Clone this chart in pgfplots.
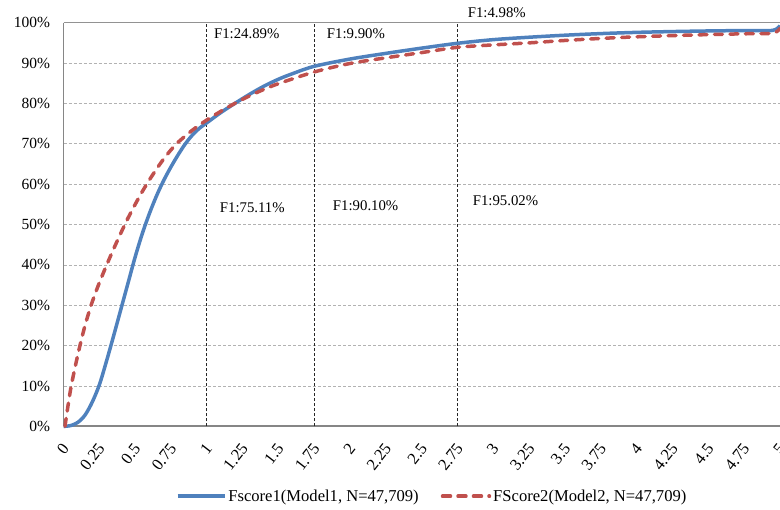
\documentclass[border=0pt]{standalone}
\usepackage{fontspec}
\setmainfont{Liberation Serif}
\usepackage{pgfplots}
\pgfplotsset{compat=1.18}
\usetikzlibrary{calc}
\definecolor{bl}{HTML}{4F81BD}
\definecolor{rd}{HTML}{C0504D}
\definecolor{axgray}{HTML}{868686}
\begin{document}
\begin{tikzpicture}
\begin{axis}[name=ax, width=717pt, height=404pt, scale only axis,
 xmin=0, xmax=5, ymin=0, ymax=100, clip=false,
 xtick={0,0.25,0.5,0.75,1,1.25,1.5,1.75,2,2.25,2.5,2.75,3,3.25,3.5,3.75,4,4.25,4.5,4.75,5},
 xticklabels={0,0.25,0.5,0.75,1,1.25,1.5,1.75,2,2.25,2.5,2.75,3,3.25,3.5,3.75,4,4.25,4.5,4.75,5},
 ytick={0,10,20,30,40,50,60,70,80,90,100},
 yticklabels={0\%,10\%,20\%,30\%,40\%,50\%,60\%,70\%,80\%,90\%,100\%},
 /pgf/number format/assume math mode=true,
 ymajorgrids, major grid style={gray!60, line width=0.8pt, dash pattern=on 3pt off 2pt},
 major tick length=0pt,
 axis line style={draw=none},
 tick label style={font=\fontsize{15.5}{18}\selectfont},
 yticklabel style={xshift=-10pt},
 xticklabel style={font=\fontsize{16.5}{19}\selectfont, xshift=2pt, yshift=-19pt, inner sep=0pt, rotate=52, anchor=east},
 legend style={at={(0.5145,-0.173)}, anchor=center, draw=none, fill=none,
   font=\fontsize{16.6}{19}\selectfont, legend columns=2,
   /tikz/every even column/.append style={column sep=20pt}},
 legend image code/.code={\draw[#1] (0pt,0pt) -- (47pt,0pt);},
]
\draw[axgray, line width=1pt] (rel axis cs:0,0) -- (rel axis cs:0,1);
\draw[axgray!90, line width=1.2pt] (rel axis cs:0,1) -- (rel axis cs:1,1);
\draw[axgray, line width=2pt] (rel axis cs:0,0) -- (rel axis cs:1,0);
\addplot[forget plot, black!85, line width=0.8pt, dash pattern=on 3pt off 2pt] coordinates {(1,0) (1,100)};
\addplot[forget plot, black!85, line width=0.8pt, dash pattern=on 3pt off 2pt] coordinates {(1.75,0) (1.75,100)};
\addplot[forget plot, black!85, line width=0.8pt, dash pattern=on 3pt off 2pt] coordinates {(2.75,0) (2.75,100)};
\addplot[bl, line width=3.5pt, smooth, line join=round] coordinates {
(0,0) (0.05,0.2) (0.1,1) (0.15,2.8) (0.2,6) (0.25,10.3) (0.3,16.2) (0.35,22.5)
(0.4,29) (0.45,35.5) (0.5,42) (0.55,47.8) (0.6,52.8) (0.65,57.2) (0.7,61)
(0.75,64.3) (0.8,67.3) (0.85,70) (0.9,72.2) (0.95,73.9) (1,75.2) (1.1,77.8)
(1.2,80.1) (1.3,82.3) (1.4,84.3) (1.5,86) (1.6,87.4) (1.75,89.2) (2,91.0)
(2.25,92.4) (2.5,93.7) (2.75,94.9) (3,95.8) (3.25,96.4) (3.5,96.9) (3.75,97.3)
(4,97.6) (4.25,97.8) (4.5,97.95) (4.75,98.05) (4.95,98.1) (5,99.3)};
\addlegendentry{Fscore1(Model1, N=47,709)}
\addplot[rd, line width=3.5pt, smooth, line cap=round, dash pattern=on 8pt off 7.5pt] coordinates {
(0.01,0) (0.05,9.3) (0.1,17.8) (0.15,25) (0.2,30.8) (0.25,35.6) (0.3,39.9)
(0.35,44) (0.4,47.9) (0.45,51.6) (0.5,55) (0.55,58.2) (0.6,61.1) (0.65,63.8)
(0.7,66.3) (0.75,68.5) (0.8,70.4) (0.9,73.4) (1,75.9) (1.1,78.1) (1.2,80.1)
(1.3,81.9) (1.4,83.5) (1.5,84.9) (1.75,87.8) (2,89.9) (2.25,91.3) (2.5,92.6)
(2.75,93.9) (3,94.5) (3.25,95.0) (3.5,95.6) (3.75,96.1) (4,96.5) (4.25,96.8)
(4.5,97.05) (4.75,97.25) (4.95,97.4) (5,98.6)};
\addlegendentry{FScore2(Model2, N=47,709)}
\node[anchor=west, inner sep=0pt, font=\fontsize{14.8}{17}\selectfont] at (axis cs:1.049,97.2) {F1:24.89\%};
\node[anchor=west, inner sep=0pt, font=\fontsize{14.8}{17}\selectfont] at (axis cs:1.837,97.2) {F1:9.90\%};
\node[anchor=west, inner sep=0pt, font=\fontsize{14.8}{17}\selectfont] at (axis cs:2.82,102.5) {F1:4.98\%};
\node[anchor=west, inner sep=0pt, font=\fontsize{14.8}{17}\selectfont] at (axis cs:1.09,54.2) {F1:75.11\%};
\node[anchor=west, inner sep=0pt, font=\fontsize{14.8}{17}\selectfont] at (axis cs:1.879,54.7) {F1:90.10\%};
\node[anchor=west, inner sep=0pt, font=\fontsize{14.8}{17}\selectfont] at (axis cs:2.855,55.9) {F1:95.02\%};
\end{axis}
\pgfresetboundingbox
\path ($(ax.south west)+(-63.6pt,-83pt)$) rectangle ($(ax.north east)+(0pt,22.7pt)$);
\end{tikzpicture}
\end{document}
